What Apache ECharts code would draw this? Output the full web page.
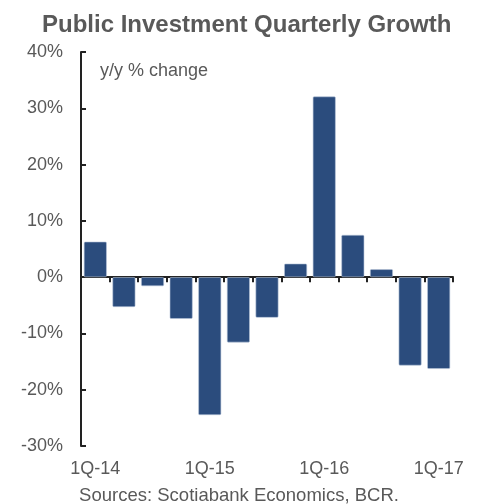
<!DOCTYPE html>
<html>
<head>
<meta charset="utf-8">
<script src="https://cdn.jsdelivr.net/npm/echarts@6/dist/echarts.min.js"></script>
<style>
  html, body { margin: 0; padding: 0; background: #fff; }
  #chart { width: 478px; height: 504px; }
</style>
</head>
<body>
<div id="chart"></div>
<script>
// Quarterly public investment, year-over-year % change
const quarters = ['1Q-14', '2Q-14', '3Q-14', '4Q-14', '1Q-15', '2Q-15', '3Q-15', '4Q-15',
                  '1Q-16', '2Q-16', '3Q-16', '4Q-16', '1Q-17'];
const growth = [6.3, -5.3, -1.6, -7.4, -24.5, -11.6, -7.2, 2.4, 32.1, 7.5, 1.4, -15.7, -16.3];
const yTicks = { min: -30, max: 40, step: 10 };

const chart = echarts.init(document.getElementById('chart'));
const grey = '#595959';
const font = 'Liberation Sans, Arial, sans-serif';

chart.setOption({
  animation: false,
  title: {
    text: 'Public Investment Quarterly Growth',
    left: 42,
    top: 13,
    padding: 0,
    textStyle: { fontFamily: font, fontSize: 24, fontWeight: 'bold', color: grey }
  },
  graphic: [
    {
      type: 'text', left: 100, top: 62,
      style: { text: 'y/y % change', font: '18px ' + font, fill: grey }
    },
    {
      type: 'text', left: 'center', top: 486,
      style: { text: 'Sources: Scotiabank Economics, BCR.', font: '18.5px ' + font, fill: grey }
    }
  ],
  grid: { left: 81, right: 25, top: 52, bottom: 58, containLabel: false },
  xAxis: [
    {
      // zero line with boundary ticks
      type: 'category',
      data: quarters,
      axisLine: { onZero: true, lineStyle: { color: '#222', width: 2 } },
      axisTick: { show: true, interval: 0, length: 5, lineStyle: { color: '#222', width: 2 } },
      axisLabel: { show: false },
      splitLine: { show: false }
    },
    {
      // labels along the bottom
      type: 'category',
      data: quarters,
      position: 'bottom',
      axisLine: { show: false, onZero: false },
      axisTick: { show: false },
      axisLabel: {
        interval: 3, margin: 14,
        fontFamily: font, fontSize: 18, color: grey
      }
    }
  ],
  yAxis: {
    type: 'value',
    min: yTicks.min, max: yTicks.max, interval: yTicks.step,
    axisLine: { show: true, lineStyle: { color: '#222', width: 2 } },
    axisTick: { show: true, inside: true, length: 5, lineStyle: { color: '#222', width: 2 } },
    axisLabel: { formatter: '{value}%', margin: 18, fontFamily: font, fontSize: 18, color: grey },
    splitLine: { show: false }
  },
  series: [{
    type: 'bar',
    xAxisIndex: 0,
    data: growth,
    barWidth: '80%',
    itemStyle: { color: '#2b4c7d', borderColor: '#b9c6da', borderWidth: 0.6, borderRadius: 1 }
  }]
});
</script>
</body>
</html>
